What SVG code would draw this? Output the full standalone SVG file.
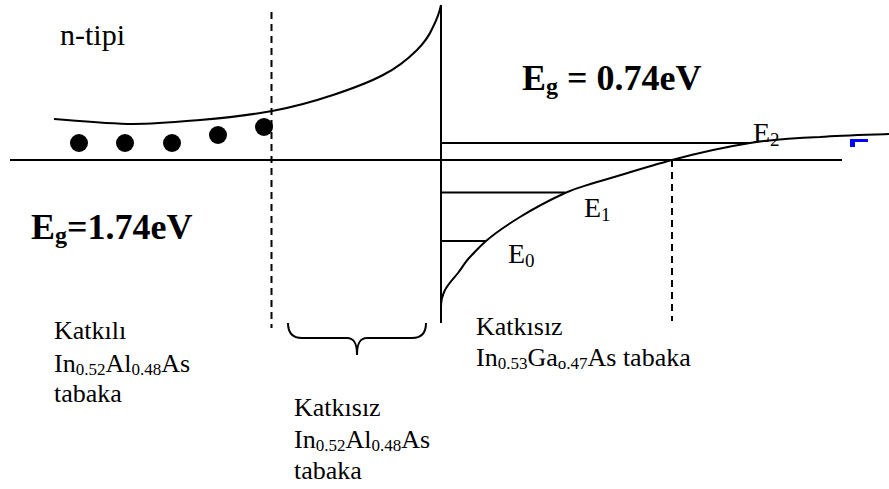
<svg xmlns="http://www.w3.org/2000/svg" width="889" height="489" viewBox="0 0 889 489">
<style>
.ln{fill:none;stroke:#000;stroke-width:2}
.ds{fill:none;stroke:#000;stroke-width:2;stroke-dasharray:7 5}
.t,.b,.e{font-family:'Liberation Serif','Tinos','Times New Roman','DejaVu Serif','Noto Serif',serif;fill:#000}
.t{font-size:26px}
.b{font-size:36px;font-weight:bold}
.e{font-size:28px}
.dot{fill:#000}
</style>
<rect width="889" height="489" fill="#fff"/>
<g id="connectors">
  <line class="ln" x1="10" y1="160" x2="842" y2="160"/>
  <line class="ln" x1="441" y1="5" x2="441" y2="323"/>
  <line class="ds" x1="271.5" y1="12" x2="271.5" y2="328"/>
  <line class="ds" x1="672" y1="160" x2="672" y2="321"/>
  <path class="ln" d="M54,119 C67,120 109,124 133,124 C157,124 177,122 200,120 C223,118 250,115 272,111 C294,107 315,101 333,95 C351,89 368,83 383,75 C397,68 408,59 417,50 C425,42 430,34 433,27 C437,19 440,10 441,5"/>
  <path class="ln" d="M441,307 C441,300 442,296 445,290 C448,284 454,278 458,273 C462,268 465,262 470,257 C475,252 478,248 486,241 C494,234 507,225 520,217 C533,209 552,199 565,193 C578,187 582,187 597,182 C615,177 646,167 672,160 C698,153 725,147 750,143 C775,139 797,138 820,137 C843,135 877,134.5 889,134"/>
  <line class="ln" x1="441" y1="143" x2="751" y2="143"/>
  <line class="ln" x1="441" y1="192.5" x2="565" y2="192.5"/>
  <line class="ln" x1="441" y1="241" x2="486" y2="241"/>
  <path class="ln" d="M288,323 C288,333 292,338 302,338 L347,338 C354,338 357,343 357,355 C357,343 360,338 367,338 L412,338 C422,338 426,333 426,323"/>
</g>
<g id="electrons">
  <circle class="dot" cx="79" cy="143" r="9"/>
  <circle class="dot" cx="125" cy="143" r="9"/>
  <circle class="dot" cx="172" cy="143" r="9"/>
  <circle class="dot" cx="218" cy="135" r="9"/>
  <circle class="dot" cx="264" cy="127" r="9"/>
</g>
<g id="marker-blue">
  <rect x="850" y="139" width="18" height="3" fill="#0000ff"/>
  <rect x="850" y="139" width="5" height="8" fill="#0000ff"/>
</g>
<g id="label-ntipi"><text class="t" x="60" y="45" style="font-size:30px">n-tipi</text></g>
<g id="label-eg-right"><text class="b" x="522" y="90">E<tspan font-size="24" dy="4">g</tspan><tspan dy="-4"> = 0.74eV</tspan></text></g>
<g id="label-eg-left"><text class="b" x="31" y="239">E<tspan font-size="24" dy="4">g</tspan><tspan dy="-4">=1.74eV</tspan></text></g>
<g id="label-E2"><text class="e" x="753" y="142">E<tspan font-size="19" dy="4">2</tspan></text></g>
<g id="label-E1"><text class="e" x="584" y="217">E<tspan font-size="19" dy="4">1</tspan></text></g>
<g id="label-E0"><text class="e" x="508" y="263">E<tspan font-size="19" dy="4">0</tspan></text></g>
<g id="label-doped">
  <text class="t" x="54" y="339">Katkılı</text>
  <text class="t" x="54" y="372">In<tspan font-size="17" dy="3">0.52</tspan><tspan dy="-3">Al</tspan><tspan font-size="17" dy="3">0.48</tspan><tspan dy="-3">As</tspan></text>
  <text class="t" x="54" y="402">tabaka</text>
</g>
<g id="label-spacer">
  <text class="t" x="294" y="416">Katkısız</text>
  <text class="t" x="294" y="448">In<tspan font-size="17" dy="3">0.52</tspan><tspan dy="-3">Al</tspan><tspan font-size="17" dy="3">0.48</tspan><tspan dy="-3">As</tspan></text>
  <text class="t" x="294" y="479">tabaka</text>
</g>
<g id="label-channel">
  <text class="t" x="476" y="335">Katkısız</text>
  <text class="t" x="476" y="366">In<tspan font-size="17" dy="3">0.53</tspan><tspan dy="-3">Ga</tspan><tspan font-size="17" dy="3">o.47</tspan><tspan dy="-3">As tabaka</tspan></text>
</g>
</svg>
